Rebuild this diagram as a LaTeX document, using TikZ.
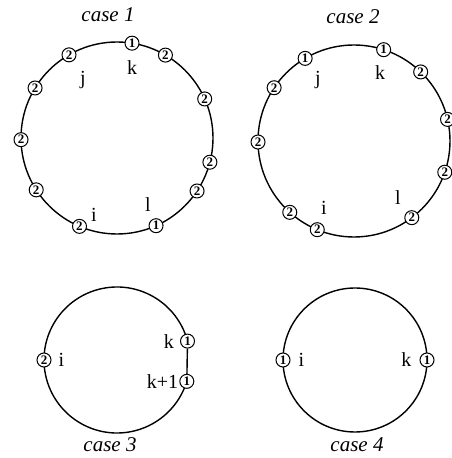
\documentclass[tikz,border=0pt]{standalone}
\usepackage{fontspec}
\setmainfont{Liberation Serif}
\usetikzlibrary{positioning}
\tikzset{
  ring/.style={
    line width=1.4pt,
    black
  },
  dot/.style={
    circle,
    draw,
    line width=1pt,
    fill=white,
    minimum size=14pt,
    inner sep=0pt,
    font=\fontsize{13}{13}\selectfont\bfseries
  },
  lab/.style={
    inner sep=0pt,
    font=\fontsize{20}{20}\selectfont
  },
  title/.style={
    inner sep=0pt,
    font=\fontsize{21}{21}\selectfont\itshape
  }
}
\begin{document}
\begin{tikzpicture}[x=1pt,y=1pt]
\useasboundingbox (0,0) rectangle (451,458);
% case 1
\node[title] (t1) at (108,443) {case 1};
\begin{scope}[shift={(117,320)}]
\draw[ring] (0,0) circle (96);
\foreach \a/\v/\n in {81/1/k,59.7/2/a,24/2/b,-14.6/2/c,-33.5/2/d,-66/1/l,
  247/2/i,212.7/2/e,181/2/f,148.6/2/g,120/2/j}
  \node[dot] (c1\n) at (\a:96) {\v};
\end{scope}
\node[lab] (k1) at (132,390) {k};
\node[lab] (j1) at (83,378) {j};
\node[lab] (i1) at (94,243) {i};
\node[lab] (l1) at (148,253) {l};
% case 2
\node[title] (t2) at (353,441) {case 2};
\begin{scope}[shift={(354,317)}]
\draw[ring] (0,0) circle (96);
\foreach \a/\v/\n in {120.6/1/j,146.3/2/a,180.6/2/b,228/2/c,247.5/2/i,
  -53/2/l,-19/2/d,13/2/e,46/2/f,72/1/k}
  \node[dot] (c2\n) at (\a:96) {\v};
\end{scope}
\node[lab] (j2) at (318,378) {j};
\node[lab] (k2) at (380,385) {k};
\node[lab] (i2) at (324,250) {i};
\node[lab] (l2) at (398,260) {l};
% case 3
\begin{scope}[shift={(117,98)}]
\draw[ring] (15:73) arc[start angle=15,end angle=343,radius=73];
\node[dot] (c3i) at (180:73) {2};
\node[dot] (c3k) at (15:73) {1};
\node[dot] (c3m) at (-17:73) {1};
\end{scope}
\draw[ring] (c3k) -- (c3m);
\node[lab,left=6pt of c3k] (k3) {k};
\node[lab,left=1pt of c3m] (m3) {k+1};
\node[lab,right=7pt of c3i] (i3) {i};
\node[title] (t3) at (110,13) {case 3};
% case 4
\begin{scope}[shift={(355,98)}]
\draw[ring] (0,0) circle (72);
\node[dot] (c4i) at (180:72) {1};
\node[dot] (c4k) at (0:72) {1};
\end{scope}
\node[lab,right=8pt of c4i] (i4) {i};
\node[lab,left=8pt of c4k] (k4) {k};
\node[title] (t4) at (357,13) {case 4};
\end{tikzpicture}
\end{document}
